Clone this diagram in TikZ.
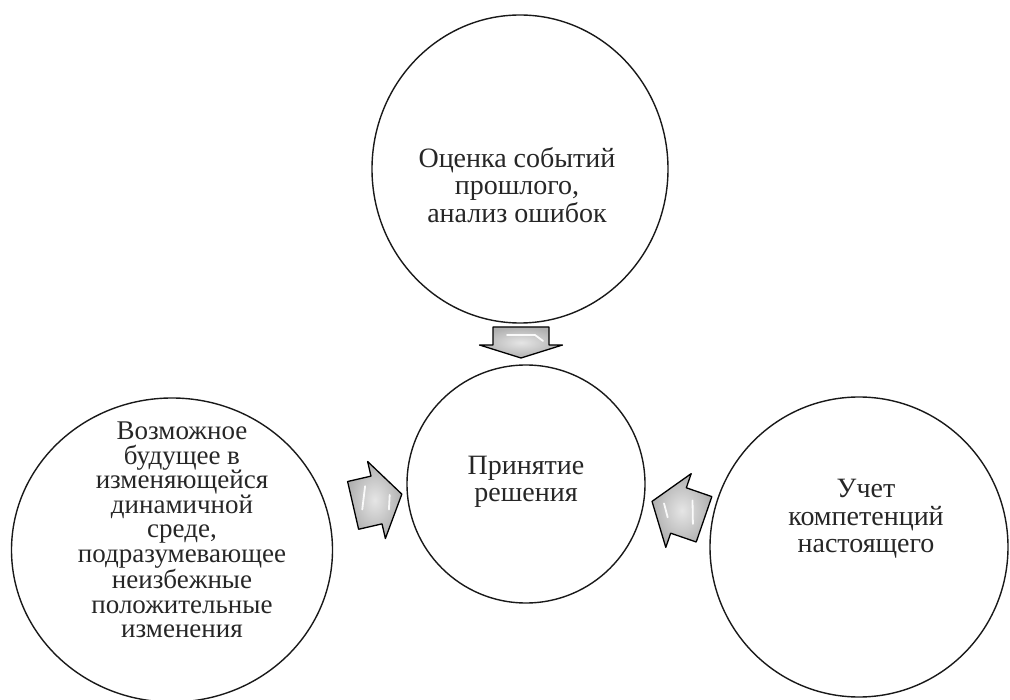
\documentclass[tikz,border=0pt]{standalone}
\usepackage{fontspec}
\setmainfont{Liberation Serif}
\usetikzlibrary{shapes.geometric}
\begin{document}
\begin{tikzpicture}[x=1pt,y=-1pt,
  bubble/.style={ellipse, draw=black!90, line width=1.4pt, inner sep=0pt},
  txt/.style={align=center, text=black!85, font=\fontsize{28}{27.5}\selectfont},
  txtl/.style={align=center, text=black!85, font=\fontsize{27}{24.5}\selectfont},
  arr/.style={draw=black, line width=1.3pt, line join=round, shading=radial, inner color=gray!20, outer color=gray!62},
  hl/.style={white, line width=1.8pt, line cap=round, opacity=0.9}]
\useasboundingbox (0,0) rectangle (1010,700);
% circles
\node[bubble, minimum width=296pt, minimum height=308pt] (past) at (520,169) {};
\node[bubble, minimum width=238pt, minimum height=238pt] (dec) at (526,484) {};
\node[bubble, minimum width=321pt, minimum height=304pt] (fut) at (172,550) {};
\node[bubble, minimum width=298pt, minimum height=300pt] (pres) at (859,547) {};
% texts
\node[txt] (pastT) at (517,185) {Оценка событий\\прошлого,\\анализ ошибок};
\node[txt] (decT) at (526,482) {Принятие\\решения};
\node[txt] (presT) at (866,519) {Учет\\компетенций\\настоящего};
\node[txtl] (futT) at (182,530) {Возможное\\будущее в\\изменяющейся\\динамичной\\среде,\\подразумевающее\\неизбежные\\положительные\\изменения};
% block arrows
\begin{scope}[shift={(521,345)}, rotate=-90]
  \path[arr] (-18,-28) -- (0,-28) -- (0,-41.5) -- (13,0) -- (0,41.5) -- (0,28) -- (-18,28) -- cycle;
  \draw[hl] (-10,-14) -- (-4,-22);
  \draw[hl] (-10,-14) -- (-10,14);
\end{scope}
\begin{scope}[shift={(376.5,500)}, rotate=13]
  \path[arr] (-24,-24.5) -- (0,-24.5) -- (0,-39.5) -- (26,0) -- (0,39.5) -- (0,24.5) -- (-24,24.5) -- cycle;
  \draw[hl] (-16,6) -- (-8,-16);
  \draw[hl] (10,12) -- (14,-2);
\end{scope}
\begin{scope}[shift={(678.5,510.5)}, rotate=161]
  \path[arr] (-27,-24) -- (0,-24) -- (0,-39) -- (28,0) -- (0,39) -- (0,24) -- (-27,24) -- cycle;
  \draw[hl] (-18,-8) -- (-10,14);
  \draw[hl] (8,-10) -- (16,2);
\end{scope}
\end{tikzpicture}
\end{document}
